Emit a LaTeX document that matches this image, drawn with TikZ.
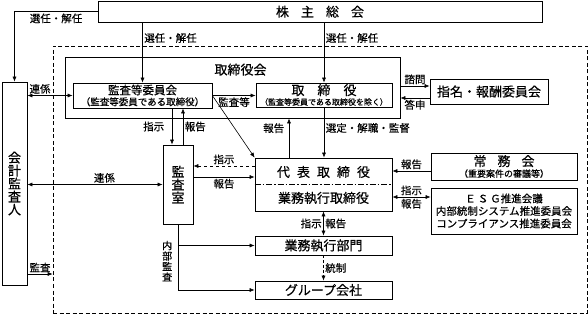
\documentclass[tikz,border=0pt]{standalone}
\usepackage{fontspec}
\setmainfont{Noto Sans CJK JP}[UprightFeatures={FakeBold=0.45}]
\usetikzlibrary{arrows.meta,positioning,calc}
\newcommand\subtxt[2]{{\fontsize{#1}{#1}\selectfont #2}}
\tikzset{
  box/.style={draw, line width=.7pt, fill=white, inner sep=0pt, align=center,
              font=\fontsize{13}{15}\selectfont},
  frame/.style={draw, line width=.7pt, inner sep=0pt},
  outer/.style={draw, dash pattern=on 4pt off 2.5pt, line width=.6pt, inner sep=0pt},
  divider/.style={line width=.6pt, dash pattern=on 6pt off 2pt on 1.5pt off 2pt},
  arr/.style={-{Latex[length=5pt,width=4pt]}, line width=.6pt},
  darr/.style={{Latex[length=5pt,width=4pt]}-{Latex[length=5pt,width=4pt]}, line width=.6pt},
  lbl/.style={font=\fontsize{10.5}{11}\selectfont, inner sep=1.5pt},
  vtext/.style={align=center, font=\fontsize{10}{10.5}\selectfont},
  head/.style={font=\fontsize{13}{15}\selectfont, inner sep=0pt}
}
\begin{document}
\begin{tikzpicture}[x=1pt,y=-1pt]
  \useasboundingbox (0,0) rectangle (588,315);

  \node[box, minimum width=444pt, minimum height=20.5pt] (soukai) at (320,11.75)
       {株\hspace{12pt}主\hspace{12pt}総\hspace{12pt}会};
  \node[outer, minimum width=534pt, minimum height=267pt] (company) at (320,179.5) {};

  % board of directors
  \node[frame, minimum width=335pt, minimum height=61pt] (board) at (232.5,87.5) {};
  \node[head] (boardlbl) at ([xshift=8pt,yshift=-13pt]board.north) {取締役会};
  \node[box, minimum width=139pt, minimum height=25pt, font=\fontsize{11.5}{12}\selectfont] (auditcom) at (142.5,95.5)
       {監査等委員会\\[-1pt]\subtxt{9.5}{（監査等委員である取締役）}};
  \node[box, minimum width=136pt, minimum height=24pt, font=\fontsize{13}{12}\selectfont] (director) at (324,95)
       {取\hspace{13pt}締\hspace{13pt}役\\[-2pt]\subtxt{8}{（監査等委員である取締役を除く）}};
  \node[box, minimum width=118pt, minimum height=25pt] (nomination) at (489,91.5) {指名・報酬委員会};

  \node[box, minimum width=25pt, minimum height=203pt, font=\fontsize{13}{13}\selectfont] (accountant) at (14.5,183.5)
       {会\\計\\監\\査\\人};
  \node[box, minimum width=30pt, minimum height=79pt, font=\fontsize{13}{13}\selectfont] (auditoffice) at (178,184.5)
       {監\\査\\室};

  % representative director
  \node[box, minimum width=137pt, minimum height=53pt] (ceo) at (323.5,184.5) {};
  \draw[divider] (ceo.west) -- (ceo.east);
  \node[head] (ceotop) at ([yshift=12.5pt]ceo.center) {代\hspace{7pt}表\hspace{7pt}取\hspace{7pt}締\hspace{7pt}役};
  \node[head] (ceobot) at ([yshift=-13.5pt]ceo.center) {業務執行取締役};

  \node[box, minimum width=146pt, minimum height=27pt, font=\fontsize{13}{12}\selectfont] (executive) at (504,166.5)
       {常\hspace{11pt}務\hspace{11pt}会\\[-1pt]\subtxt{9}{（重要案件の審議等）}};
  \node[box, minimum width=146pt, minimum height=46pt, font=\fontsize{10.5}{12.5}\selectfont] (committees) at (504,211)
       {Ｅ\hspace{2pt}Ｓ\hspace{2pt}Ｇ推進会議\\内部統制システム推進委員会\\コンプライアンス推進委員会};
  \node[box, minimum width=137pt, minimum height=19pt] (division) at (323.5,245.5) {業務執行部門};
  \node[box, minimum width=137pt, minimum height=18pt] (group) at (323.5,290) {グループ会社};

  % shareholders
  \draw[arr] (soukai.west) -| node[lbl, below, pos=.25] {選任・解任} (accountant.north);
  \draw[arr] (auditcom.north |- soukai.south) -- node[lbl, right, pos=.26] {選任・解任} (auditcom.north);
  \draw[arr] (director.north |- soukai.south) -- node[lbl, right, pos=.26] {選任・解任} (director.north);

  % inside the board
  \draw[darr] (accountant.east |- auditcom.west) -- node[lbl, above, pos=.28] {連係} (auditcom.west);
  \draw[arr] (auditcom.east) -- node[lbl, below] {監査等} (director.west |- auditcom.east);
  \draw[arr] (auditcom.east) -- (ceo.north west);
  \coordinate (ask) at ([yshift=5.5pt]nomination.west);
  \coordinate (answer) at ([yshift=-6.5pt]nomination.west);
  \draw[arr] (board.east |- ask) -- node[lbl, above] {諮問} (ask);
  \draw[arr] (answer) -- node[lbl, below] {答申} (board.east |- answer);

  % audit office
  \coordinate (order) at ([xshift=-6pt]auditoffice.north);
  \coordinate (report) at ([xshift=5pt]auditoffice.north);
  \draw[arr] (order |- auditcom.south) -- node[lbl, left=6pt] {指示} (order);
  \draw[arr] (report) -- node[lbl, right] {報告} (report |- auditcom.south);
  \coordinate (cmd) at ([yshift=18.5pt]ceo.west);
  \coordinate (rep) at ([yshift=7.5pt]ceo.west);
  \draw[arr, dashed] (cmd) -- node[lbl, above] {指示} (auditoffice.east |- cmd);
  \draw[arr] (auditoffice.east |- rep) -- node[lbl, below] {報告} (rep);
  \draw[darr] (accountant.east |- auditoffice.west) -- node[lbl, above, pos=.57] {連係} (auditoffice.west);
  \coordinate (aud) at ([yshift=-90.5pt]accountant.east);
  \draw[arr] (aud) -- node[lbl, above] {監査} (company.west |- aud);

  % board <-> representative director
  \coordinate (up) at ([xshift=-34.5pt]ceo.north);
  \draw[arr] (up) -- node[lbl, left=3pt, pos=.75] {報告} (up |- board.south);
  \draw[arr] (director.south) -- node[lbl, right, pos=.41] {選定・解職・監督} (director.south |- ceo.north);

  % executive side
  \coordinate (jrep) at ([yshift=-4.5pt]executive.west);
  \draw[arr] (jrep) -- node[lbl, above] {報告} (ceo.east |- jrep);
  \coordinate (esgl) at ([yshift=14pt]committees.west);
  \draw[darr] (ceo.east |- esgl) -- node[lbl, above] {指示} node[lbl, below] {報告} (esgl);
  \draw[darr] (ceo.south) -- node[lbl, left] {指示} node[lbl, right] {報告} (division.north);
  \draw[arr, densely dashed] (division.south) -- node[lbl, right] {統制} (group.north);

  % internal audit
  \draw[arr] (auditoffice.south) |- node[lbl, vtext, left=4pt, pos=.28] {内\\部\\監\\査} (group.west);
  \draw[arr] (auditoffice.south |- division.west) -- (division.west);
\end{tikzpicture}
\end{document}
